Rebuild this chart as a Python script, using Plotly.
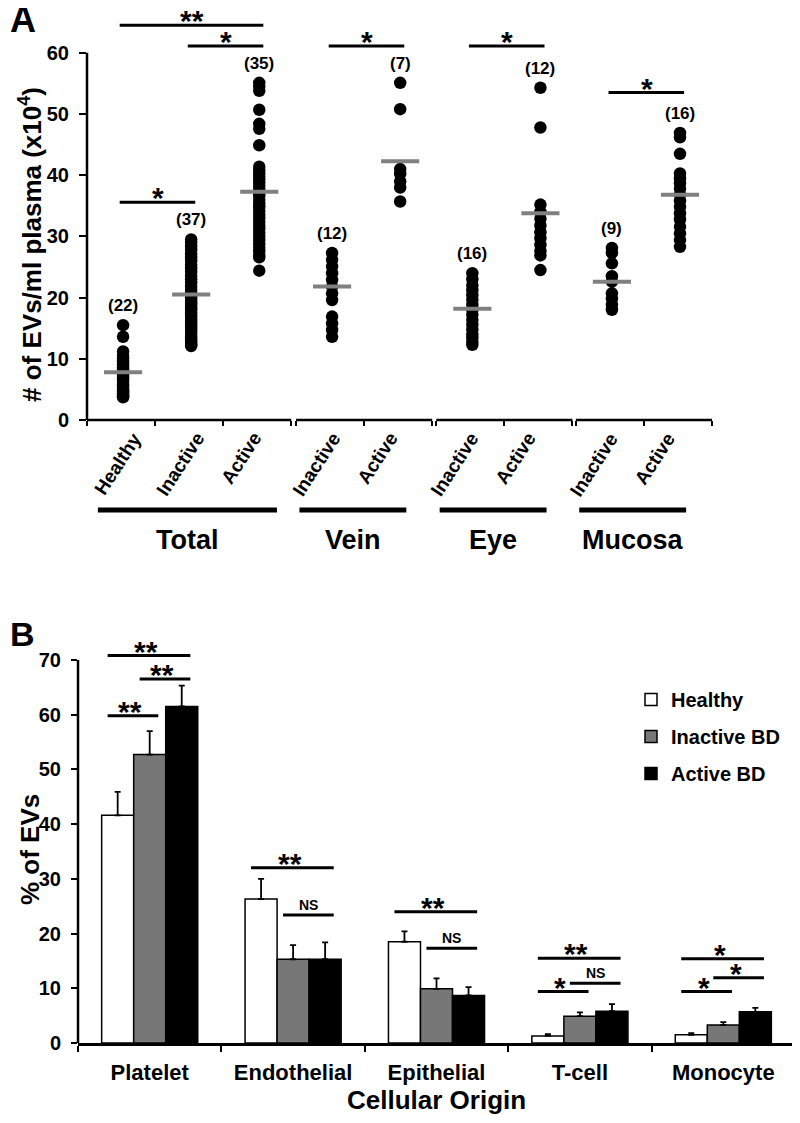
import plotly.graph_objects as go

# ---------------- Panel A data ----------------
a_group_names = ["Total", "Vein", "Eye", "Mucosa"]
a_group_sizes = [3, 2, 2, 2]
a_category_labels = ["Healthy", "Inactive", "Active", "Inactive", "Active",
                     "Inactive", "Active", "Inactive", "Active"]

a_total_healthy = [15.5, 13.6, 11.2, 10.5, 10.0, 9.5, 9.0, 8.6, 8.2, 7.8, 7.4,
                   7.0, 6.6, 6.2, 5.8, 5.4, 5.0, 4.7, 4.4, 4.1, 3.9, 3.7]
a_total_inactive = [29.5, 29.0, 28.4, 27.8, 27.2, 26.6, 26.0, 25.4, 24.8, 24.2,
                    23.6, 23.0, 22.4, 21.8, 21.3, 20.8, 20.4, 20.0, 19.6, 19.2,
                    18.8, 18.4, 18.0, 17.6, 17.2, 16.7, 16.2, 15.7, 15.2, 14.7,
                    14.2, 13.7, 13.3, 12.9, 12.6, 12.3, 12.1]
a_total_active = [55.1, 54.5, 53.8, 50.7, 48.4, 47.6, 44.9, 41.4, 40.8, 40.3,
                  39.8, 39.3, 38.8, 38.3, 37.8, 37.2, 36.6, 36.0, 35.4, 34.8,
                  34.2, 33.6, 33.0, 32.4, 31.8, 31.2, 30.6, 30.0, 29.4, 28.8,
                  28.2, 27.6, 27.0, 26.6, 24.4]
a_vein_inactive = [27.3, 26.2, 25.1, 24.0, 22.9, 21.8, 20.7, 19.6, 16.9, 15.8, 14.7, 13.6]
a_vein_active = [55.1, 50.8, 41.0, 40.2, 39.0, 38.0, 35.7]
a_eye_inactive = [24.0, 23.0, 22.0, 21.2, 20.4, 19.6, 18.8, 18.0, 17.2, 16.4,
                  15.6, 14.8, 14.0, 13.4, 12.8, 12.3]
a_eye_active = [54.3, 47.8, 35.2, 34.0, 32.9, 31.8, 30.7, 29.7, 28.6, 27.6, 26.9, 24.5]
a_mucosa_inactive = [28.1, 27.3, 25.6, 23.5, 22.6, 20.7, 19.8, 18.8, 18.0]
a_mucosa_active = [46.9, 46.2, 43.5, 40.3, 39.5, 38.7, 37.8, 36.8, 35.8, 34.8,
                   33.8, 32.8, 31.6, 30.5, 29.4, 28.3]

a_values = [a_total_healthy, a_total_inactive, a_total_active,
            a_vein_inactive, a_vein_active, a_eye_inactive, a_eye_active,
            a_mucosa_inactive, a_mucosa_active]
a_means = [7.8, 20.5, 37.3, 21.8, 42.3, 18.2, 33.8, 22.6, 36.8]
a_yticks = [0, 10, 20, 30, 40, 50, 60]
# significance brackets: from category, to category, level, label
a_sig_from = [0, 1, 0, 3, 5, 7]
a_sig_to = [2, 2, 1, 4, 6, 8]
a_sig_level = [64.5, 61.1, 35.6, 61.1, 61.1, 53.5]
a_sig_label = ["**", "*", "*", "*", "*", "*"]

# ---------------- Panel B data ----------------
b_categories = ["Platelet", "Endothelial", "Epithelial", "T-cell", "Monocyte"]
b_series = ["Healthy", "Inactive BD", "Active BD"]
b_healthy = [41.6, 26.3, 18.5, 1.3, 1.5]
b_healthy_err = [4.3, 3.7, 1.9, 0.3, 0.3]
b_inactive = [52.7, 15.3, 9.9, 4.9, 3.3]
b_inactive_err = [4.3, 2.6, 1.9, 0.7, 0.5]
b_active = [61.5, 15.3, 8.7, 5.8, 5.7]
b_active_err = [3.8, 3.1, 1.5, 1.3, 0.7]
b_yticks = [0, 10, 20, 30, 40, 50, 60, 70]
# significance brackets: category, from bar, to bar, level, label
b_sig_cat = [0, 0, 0, 1, 1, 2, 2, 3, 3, 3, 4, 4, 4]
b_sig_from = [0, 1, 0, 0, 1, 0, 1, 0, 0, 1, 0, 0, 1]
b_sig_to = [2, 2, 1, 2, 2, 2, 2, 2, 1, 2, 2, 1, 2]
b_sig_level = [70.8, 66.5, 59.8, 32.0, 23.4, 24.0, 17.3, 15.5, 9.4, 10.9, 15.4, 9.4, 11.9]
b_sig_label = ["**", "**", "**", "**", "NS", "**", "NS", "**", "*", "NS", "*", "*", "*"]

# ---------------- geometry helpers ----------------
# the page body has an 8px margin, so the figure is drawn 8px in from the window corner
OFF = 8
W, H = 800 - OFF, 1123 - OFF
FONT = "Liberation Sans, Arial, Helvetica, sans-serif"
STAR_SHIFT = -14


def fx(p):
    return (p - OFF) / W


def fy(p):
    return 1 - (p - OFF) / H


def bold(size):
    return dict(family=FONT, size=size, color="black", weight="bold")


fig = go.Figure()

# ---- Panel A positions (category units, with small gaps between groups)
gaps = [0.07, 0.06, 0.05]
group_starts, group_ends, centers, boundaries, cat_group = [], [], [], [], []
pos = 0.0
for g, size in enumerate(a_group_sizes):
    group_starts.append(pos)
    for i in range(size):
        centers.append(pos + i + 0.5)
        cat_group.append(g)
    for i in range(size + 1):
        boundaries.append(pos + i)
    group_ends.append(pos + size)
    pos += size + (gaps[g] if g < len(gaps) else 0)
a_xmax = group_ends[-1]

# dots
for c, vals in zip(centers, a_values):
    fig.add_trace(go.Scatter(x=[c + 0.03] * len(vals), y=vals, mode="markers",
                             marker=dict(size=12.5, color="black"),
                             xaxis="x", yaxis="y", showlegend=False,
                             cliponaxis=False, hoverinfo="y"))

# mean bars
mx, my = [], []
for c, m in zip(centers, a_means):
    mx += [c + 0.03 - 0.28, c + 0.03 + 0.28, None]
    my += [m, m, None]
fig.add_trace(go.Scatter(x=mx, y=my, mode="lines",
                         line=dict(color="#808080", width=4),
                         xaxis="x", yaxis="y", showlegend=False, hoverinfo="skip"))

# significance lines A
sx, sy = [], []
for i, j, lv in zip(a_sig_from, a_sig_to, a_sig_level):
    sx += [centers[i] - 0.02, centers[j] + 0.09, None]
    sy += [lv, lv, None]
fig.add_trace(go.Scatter(x=sx, y=sy, mode="lines", line=dict(color="black", width=3),
                         xaxis="x", yaxis="y", showlegend=False, hoverinfo="skip",
                         cliponaxis=False))

annotations = []
shapes = []

for i, j, lv, lab in zip(a_sig_from, a_sig_to, a_sig_level, a_sig_label):
    annotations.append(dict(x=(centers[i] + centers[j]) / 2 + 0.04, y=lv, xref="x", yref="y",
                            text=lab, showarrow=False, font=bold(30),
                            yanchor="bottom", yshift=STAR_SHIFT))

# n labels
for c, vals in zip(centers, a_values):
    annotations.append(dict(x=c + 0.03, y=max(vals) + 3.2, xref="x", yref="y",
                            text="(%d)" % len(vals), showarrow=False, font=bold(17),
                            yanchor="middle"))

# rotated category labels (top-right corner anchored right of the category centre)
label_shift = {"Healthy": 0.40, "Inactive": 0.32, "Active": 0.16}
group_label_adj = [0.0, -0.07, -0.1, -0.1]
for c, lab, g in zip(centers, a_category_labels, cat_group):
    annotations.append(dict(x=c + label_shift[lab] + group_label_adj[g], y=fy(426),
                            xref="x", yref="paper",
                            text=lab, showarrow=False, font=bold(19), textangle=-57,
                            xanchor="right", yanchor="top"))

# group underline bars and names
for g, name in enumerate(a_group_names):
    s, e = group_starts[g], group_ends[g]
    if a_group_sizes[g] == 3:
        x0, x1 = s + 0.16, e - 0.21
    else:
        x0, x1 = s + 0.05, e - 0.38
    shapes.append(dict(type="line", xref="x", yref="paper", x0=x0, x1=x1,
                       y0=fy(510), y1=fy(510), line=dict(color="black", width=5)))
    annotations.append(dict(x=(x0 + x1) / 2, y=fy(540), xref="x", yref="paper",
                            text=name, showarrow=False, font=bold(27),
                            xanchor="center", yanchor="middle"))

# x-axis segments for A (broken axis)
for s, e in zip(group_starts, group_ends):
    shapes.append(dict(type="line", xref="x", yref="paper", x0=s, x1=e,
                       y0=fy(420), y1=fy(420), line=dict(color="black", width=2.5)))
# y-axis line A
shapes.append(dict(type="line", xref="paper", yref="y", x0=fx(87), x1=fx(87),
                   y0=0, y1=60, line=dict(color="black", width=2.5)))

# ---- Panel B
colors = ["white", "#777777", "black"]
b_vals = [b_healthy, b_inactive, b_active]
b_errs = [b_healthy_err, b_inactive_err, b_active_err]
for k in range(3):
    fig.add_trace(go.Bar(x=b_categories, y=b_vals[k], name=b_series[k],
                         marker=dict(color=colors[k], line=dict(color="black", width=1.5)),
                         error_y=dict(type="data", array=b_errs[k], arrayminus=[0] * len(b_errs[k]),
                                      symmetric=False, color="black", thickness=1.8, width=3),
                         xaxis="x2", yaxis="y2", legendgroup=b_series[k]))

BARGAP = 0.33
bw = (1 - BARGAP) / 3
for cat, a, b, lv, lab in zip(b_sig_cat, b_sig_from, b_sig_to, b_sig_level, b_sig_label):
    xa = cat + (a - 1) * bw - 0.07
    xb = cat + (b - 1) * bw + 0.06
    shapes.append(dict(type="line", xref="x2", yref="y2", x0=xa, x1=xb, y0=lv, y1=lv,
                       line=dict(color="black", width=3)))
    if lab == "NS":
        annotations.append(dict(x=(xa + xb) / 2, y=lv, xref="x2", yref="y2", text=lab,
                                showarrow=False, font=bold(14), yanchor="bottom", yshift=0))
    else:
        annotations.append(dict(x=(xa + xb) / 2 - 0.02, y=lv, xref="x2", yref="y2", text=lab,
                                showarrow=False, font=bold(30), yanchor="bottom",
                                yshift=STAR_SHIFT))

shapes.append(dict(type="line", xref="paper", yref="y2", x0=fx(78), x1=fx(78),
                   y0=0, y1=70, line=dict(color="black", width=2.5)))

# titles / panel letters
annotations += [
    dict(x=0, y=fy(20), xref="paper", yref="paper", text="A", showarrow=False,
         font=bold(36), xanchor="left", yanchor="middle"),
    dict(x=0, y=fy(634), xref="paper", yref="paper", text="B", showarrow=False,
         font=bold(34), xanchor="left", yanchor="middle"),
    dict(x=fx(30), y=fy(245), xref="paper", yref="paper",
         text="# of EVs/ml plasma (x10<sup>4</sup>)", showarrow=False,
         font=bold(26), textangle=-90, xanchor="center", yanchor="middle"),
    dict(x=fx(30), y=fy(850), xref="paper", yref="paper", text="% of EVs",
         showarrow=False, font=bold(26), textangle=-90, xanchor="center", yanchor="middle"),
    dict(x=fx(436), y=fy(1100), xref="paper", yref="paper", text="Cellular Origin",
         showarrow=False, font=bold(26), xanchor="center", yanchor="middle"),
]

fig.update_layout(
    width=W, height=H, margin=dict(l=0, r=0, t=0, b=0, autoexpand=False),
    paper_bgcolor="white", plot_bgcolor="white",
    font=dict(family=FONT, color="black"),
    barmode="group", bargap=BARGAP, bargroupgap=0,
    xaxis=dict(domain=[fx(87), fx(712)], range=[0, a_xmax], tickvals=boundaries,
               ticks="outside", ticklen=5, tickwidth=2, tickcolor="black",
               showticklabels=False, showgrid=False, zeroline=False, showline=False,
               anchor="y", automargin=False),
    yaxis=dict(domain=[fy(420), fy(10)], range=[0, 67], tickvals=a_yticks,
               ticks="outside", ticklen=7, tickwidth=2, tickcolor="black",
               tickfont=bold(20), ticklabelstandoff=6, automargin=False,
               showgrid=False, zeroline=False, showline=False, anchor="x"),
    xaxis2=dict(domain=[fx(78), fx(795)], type="category", ticks="outside",
                tickson="boundaries", ticklen=6, tickwidth=2, tickcolor="black",
                showline=True, linewidth=2.5, linecolor="black", tickfont=bold(22),
                ticklabelstandoff=8, showgrid=False, zeroline=False, anchor="y2",
                automargin=False, tickangle=0),
    yaxis2=dict(domain=[fy(1043), fy(638)], range=[0, 74], tickvals=b_yticks,
                ticks="outside", ticklen=6, tickwidth=2, tickcolor="black",
                tickfont=bold(20), ticklabelstandoff=6, automargin=False,
                showgrid=False, zeroline=False, showline=False, anchor="x2"),
    legend=dict(x=fx(631), y=fy(680), xanchor="left", yanchor="top",
                font=bold(20), traceorder="grouped", tracegroupgap=8,
                bgcolor="rgba(0,0,0,0)"),
    annotations=annotations, shapes=shapes,
)

fig.write_html("out.html")
